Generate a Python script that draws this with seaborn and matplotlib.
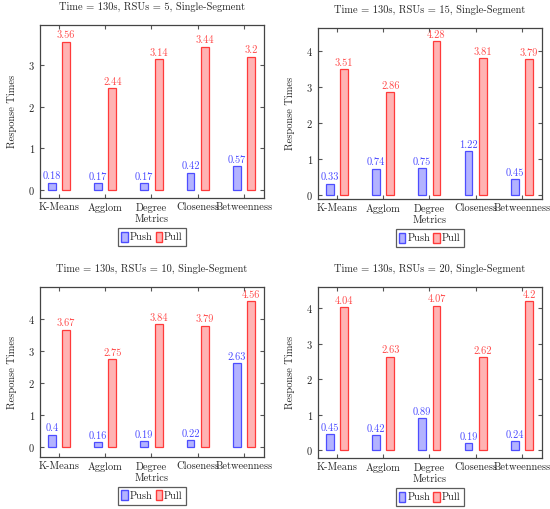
import matplotlib
matplotlib.use("Agg")
import matplotlib.pyplot as plt
import seaborn as sns
import pandas as pd
from matplotlib.patches import Patch

categories = ["K-Means", "Agglom", "Degree\nMetrics", "Closeness", "Betweenness"]
series = ["Push", "Pull"]

push_rsu5 = [0.18, 0.17, 0.17, 0.42, 0.57]
pull_rsu5 = [3.56, 2.44, 3.14, 3.44, 3.2]
push_rsu15 = [0.33, 0.74, 0.75, 1.22, 0.45]
pull_rsu15 = [3.51, 2.86, 4.28, 3.81, 3.79]
push_rsu10 = [0.4, 0.16, 0.19, 0.22, 2.63]
pull_rsu10 = [3.67, 2.75, 3.84, 3.79, 4.56]
push_rsu20 = [0.45, 0.42, 0.89, 0.19, 0.24]
pull_rsu20 = [4.04, 2.63, 4.07, 2.62, 4.2]

titles = ["Time = 130s, RSUs = 5, Single-Segment",
          "Time = 130s, RSUs = 15, Single-Segment",
          "Time = 130s, RSUs = 10, Single-Segment",
          "Time = 130s, RSUs = 20, Single-Segment"]

sns.set_style("white")
plt.rcParams['font.family'] = ['cmr10', 'DejaVu Serif']
plt.rcParams['axes.formatter.use_mathtext'] = True
plt.rcParams['mathtext.fontset'] = 'cm'

edge_colors = {"Push": "#4d4dff", "Pull": "#ff3a3a"}
fill_colors = {"Push": "#b3b3ff", "Pull": "#ffb3b3"}
text_colors = {"Push": "#4a4aff", "Pull": "#ff4a4a"}

fig = plt.figure(figsize=(5.5, 5.09), dpi=100)

panels = [
    (push_rsu5, pull_rsu5, [0.0727, 0.611, 0.407, 0.340], (-0.19, 3.96), [0, 1, 2, 3]),
    (push_rsu15, pull_rsu15, [0.578, 0.609, 0.407, 0.336], (-0.1, 4.65), [0, 1, 2, 3, 4]),
    (push_rsu10, pull_rsu10, [0.0727, 0.102, 0.407, 0.334], (-0.3, 5.0), [0, 1, 2, 3, 4]),
    (push_rsu20, pull_rsu20, [0.578, 0.100, 0.407, 0.336], (-0.23, 4.6), [0, 1, 2, 3, 4]),
]

fs = 7.5
for (push, pull, rect, ylim, yticks), title in zip(panels, titles):
    ax = fig.add_axes(rect)
    df = pd.DataFrame({
        "Category": categories * 2,
        "Series": ["Push"] * len(categories) + ["Pull"] * len(categories),
        "Value": push + pull,
    })
    sns.barplot(data=df, x="Category", y="Value", hue="Series", order=categories,
                hue_order=series, palette=fill_colors, width=0.62, gap=0.45,
                linewidth=0.9, ax=ax, legend=False, saturation=1)
    for container, s in zip(ax.containers, series):
        for bar in container:
            bar.set_edgecolor(edge_colors[s])
            bar.set_facecolor(fill_colors[s])
            bar.set_linewidth(0.9)
        ax.bar_label(container, labels=[f"{v:g}" for v in container.datavalues],
                     color=text_colors[s], fontsize=fs, padding=1)
    ax.set_xlim(-0.41, 4.43)
    ax.set_ylim(*ylim)
    ax.set_yticks(yticks)
    ax.set_xlabel("")
    ax.set_ylabel("Response Times", fontsize=fs, labelpad=8)
    ax.set_title(title, fontsize=fs, pad=11)
    ax.tick_params(axis="both", direction="in", length=3, labelsize=fs,
                   top=True, right=True, bottom=True, left=True, color="#555555")
    for sp in ax.spines.values():
        sp.set_color("#444444")
        sp.set_linewidth(0.9)
    handles = [Patch(facecolor=fill_colors[s], edgecolor=edge_colors[s], label=s) for s in series]
    leg = ax.legend(handles=handles, loc="upper center", bbox_to_anchor=(0.5, -0.175),
                    ncol=2, fontsize=fs, frameon=True, fancybox=False, edgecolor="#333333",
                    handlelength=0.6, handleheight=1.1, handletextpad=0.2,
                    columnspacing=0.3, borderpad=0.35, borderaxespad=0)
    leg.get_frame().set_linewidth(0.9)

fig.savefig("out.png", dpi=100)
